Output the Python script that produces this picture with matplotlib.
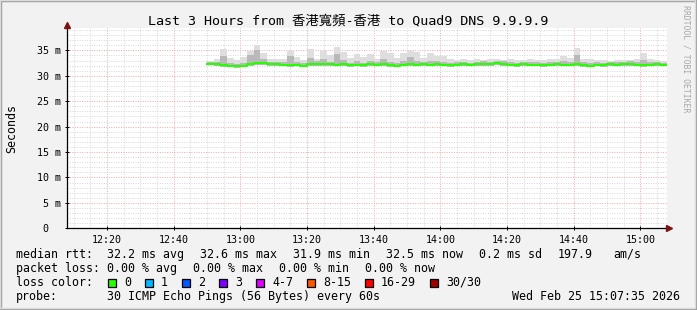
#!/usr/bin/env python3
import numpy as np
import matplotlib.pyplot as plt
from matplotlib.patches import Rectangle
from matplotlib.ticker import MultipleLocator, FuncFormatter

# time in minutes since midnight, one sample every 2 minutes (12:50 .. 15:06)
t = np.arange(770, 908, 2)

# median rtt (ms)
med = [32.4, 32.3, 32.1, 32.0, 31.9, 32.0, 32.3, 32.5, 32.5, 32.4,
       32.3, 32.2, 32.1, 32.2, 32.0, 32.3, 32.4, 32.3, 32.3, 32.2,
       32.3, 32.1, 32.2, 32.1, 32.3, 32.2, 32.4, 32.1, 32.0, 32.2,
       32.3, 32.2, 32.3, 32.2, 32.3, 32.2, 32.1, 32.2, 32.3, 32.2,
       32.3, 32.4, 32.3, 32.5, 32.4, 32.2, 32.1, 32.3, 32.2, 32.2,
       32.1, 32.2, 32.3, 32.2, 32.2, 32.4, 32.1, 32.0, 32.2, 32.1,
       32.3, 32.2, 32.3, 32.4, 32.2, 32.1, 32.2, 32.3, 32.2]

# smoke: highest ping per step
hi = [33.0, 33.4, 35.2, 33.5, 33.2, 33.6, 34.8, 36.0, 34.5, 33.4,
      33.3, 33.4, 34.9, 33.6, 33.2, 35.2, 33.3, 34.9, 34.0, 35.6,
      34.6, 33.5, 34.3, 33.6, 34.3, 33.4, 34.9, 34.4, 33.5, 34.4,
      34.8, 34.6, 33.5, 34.4, 33.9, 33.8, 33.3, 33.2, 33.4, 33.1,
      33.3, 33.2, 33.4, 33.3, 33.2, 33.3, 33.1, 33.2, 33.3, 33.1,
      33.2, 33.4, 33.3, 33.9, 33.5, 35.4, 33.3, 33.3, 33.1, 33.2,
      33.0, 33.2, 33.1, 33.2, 33.4, 34.4, 33.4, 33.1, 33.0]

# smoke: upper quartile
mid = [32.8, 32.8, 33.8, 32.5, 32.4, 32.6, 34.0, 35.0, 33.4, 32.8,
       32.7, 32.7, 33.8, 32.7, 32.5, 33.5, 32.9, 33.4, 32.8, 34.2,
       33.2, 32.6, 33.0, 32.6, 32.9, 32.7, 33.4, 32.7, 32.5, 32.9,
       33.6, 33.0, 32.8, 32.9, 32.9, 32.8, 32.6, 32.7, 32.8, 32.6,
       32.8, 32.9, 32.8, 33.0, 32.9, 32.7, 32.6, 32.8, 32.7, 32.7,
       32.6, 32.7, 32.8, 33.0, 32.8, 34.0, 32.7, 32.6, 32.7, 32.6,
       32.8, 32.7, 32.8, 32.9, 32.7, 33.1, 32.8, 32.8, 32.6]

# smoke: lowest ping per step
lo = [32.1, 32.0, 31.8, 31.7, 31.6, 31.7, 32.0, 32.1, 32.1, 32.0,
      32.0, 31.9, 31.8, 31.9, 31.7, 32.0, 32.0, 31.9, 32.0, 31.9,
      32.0, 31.8, 31.9, 31.8, 32.0, 31.9, 32.0, 31.8, 31.7, 31.9,
      31.9, 31.9, 32.0, 31.9, 31.9, 31.9, 31.8, 31.9, 31.9, 31.9,
      32.0, 32.0, 31.9, 32.1, 32.0, 31.9, 31.8, 31.9, 31.9, 31.9,
      31.8, 31.9, 31.9, 31.9, 31.9, 32.0, 31.8, 31.7, 31.9, 31.8,
      32.0, 31.9, 32.0, 32.0, 31.9, 31.8, 31.9, 32.0, 31.9]

rtt_items = ['32.2 ms avg', '32.6 ms max', '31.9 ms min', '32.5 ms now',
             '0.2 ms sd', '197.9', 'am/s']
loss_items = ['0.00 % avg', '0.00 % max', '0.00 % min', '0.00 % now']

loss_labels = ['0', '1', '2', '3', '4-7', '8-15', '16-29', '30/30']
loss_colors = ['#26ff00', '#00b8ff', '#0059ff', '#7e00ff',
               '#dd00ff', '#ff5500', '#ff0000', '#a10000']

x_ticks = [740, 760, 780, 800, 820, 840, 860, 880, 900]
x_labels = ['12:20', '12:40', '13:00', '13:20', '13:40',
            '14:00', '14:20', '14:40', '15:00']

MONO = ['DejaVu Sans Mono', 'Noto Sans CJK TC']
FS = 8.4
W, H = 697, 310

fig = plt.figure(figsize=(W / 100, H / 100), dpi=100, facecolor='#f2f2f2')

# 3d-ish frame around the image
fig.patches.append(Rectangle((0, 0), 1, 1, transform=fig.transFigure,
                             fill=False, ec='#9c9c9c', lw=2.5))
fig.patches.append(Rectangle((0, 2 / H), 1 - 2 / W, 1 - 2 / H,
                             transform=fig.transFigure, fill=False,
                             ec='#dcdcdc', lw=1.0))

ax = fig.add_axes([67 / W, (H - 228.3) / H, 600 / W, 200.3 / H])
ax.set_facecolor('white')
ax.set_xlim(728, 908)
ax.set_ylim(0, 39.4)

# smoke + median
tt = np.append(t, t[-1] + 2)
ext = lambda a: np.append(a, a[-1])
ax.fill_between(tt, ext(lo), ext(hi), step='post', color='#dedede', lw=0, zorder=2)
ax.fill_between(tt, ext(lo), ext(mid), step='post', color='#b9b9b9', lw=0, zorder=3)
ax.step(tt, ext(med), where='post', color='#26ff00', lw=1.5, zorder=4)

# grid
ax.xaxis.set_major_locator(MultipleLocator(20))
ax.xaxis.set_minor_locator(MultipleLocator(5))
ax.yaxis.set_major_locator(MultipleLocator(5))
ax.yaxis.set_minor_locator(MultipleLocator(1))
ax.grid(which='minor', color='#d6d6d6', ls=(0, (1, 1.5)), lw=0.7, zorder=0)
ax.grid(which='major', color='#f2a6a6', ls=(0, (1, 1.5)), lw=0.7, zorder=1)
ax.set_axisbelow(True)

ax.set_xticks(x_ticks)
ax.set_xticklabels(x_labels)
ax.yaxis.set_major_formatter(FuncFormatter(
    lambda v, p: '%d m' % v if v > 0 else '0  '))
ax.tick_params(which='major', direction='inout', length=3, width=0.7,
               labelsize=7.2, pad=3, colors='black')
ax.tick_params(which='minor', length=0)
for lab in ax.get_xticklabels() + ax.get_yticklabels():
    lab.set_family(MONO)

for s in ['top', 'right']:
    ax.spines[s].set_visible(False)
for s in ['left', 'bottom']:
    ax.spines[s].set_linewidth(0.9)
    ax.spines[s].set_color('black')

# axis arrows
ax.plot([0], [1.015], marker='^', color='#7a1414', ms=4.5, transform=ax.transAxes,
        clip_on=False, zorder=6)
ax.plot([1.004], [0], marker='>', color='#7a1414', ms=4.5, transform=ax.transAxes,
        clip_on=False, zorder=6)

ax.set_ylabel('Seconds', family=MONO, fontsize=FS)
ax.yaxis.set_label_coords(-0.082, 0.5)

fig.text(0.5, 1 - 21 / H, 'Last 3 Hours from 香港寬頻-香港 to Quad9 DNS 9.9.9.9',
         ha='center', va='center', family=MONO, fontsize=9.6)
fig.text(686 / W, 1 - 59 / H, 'RRDTOOL / TOBI OETIKER', rotation=270,
         ha='center', va='center', family=MONO, fontsize=5.9, color='#a8a8a8')


def put(x, row, s, ha='left'):
    fig.text(x / W, 1 - row / H, s, ha=ha, va='center', family=MONO, fontsize=FS)


# legend block
rows = [254.3, 268.3, 282.3, 296.3]
put(16, rows[0], 'median rtt:')
for x, s in zip([107, 200, 293, 386, 479, 558, 613], rtt_items):
    put(x, rows[0], s)
put(16, rows[1], 'packet loss:')
for x, s in zip([107, 193, 279, 365], loss_items):
    put(x, rows[1], s)
put(16, rows[2], 'loss color:')
bx = 108
for lab, col in zip(loss_labels, loss_colors):
    fig.patches.append(Rectangle((bx / W, 1 - 286.5 / H), 8 / W, 8 / H,
                                 transform=fig.transFigure, fc=col, ec='black', lw=0.9))
    put(bx + 16, rows[2], lab)
    bx = bx + 16 + len(lab) * 7 + 14
put(16, rows[3], 'probe:')
put(107, rows[3], '30 ICMP Echo Pings (56 Bytes) every 60s')
put(680, rows[3], 'Wed Feb 25 15:07:35 2026', ha='right')

fig.savefig('out.png', dpi=100, facecolor=fig.get_facecolor())
